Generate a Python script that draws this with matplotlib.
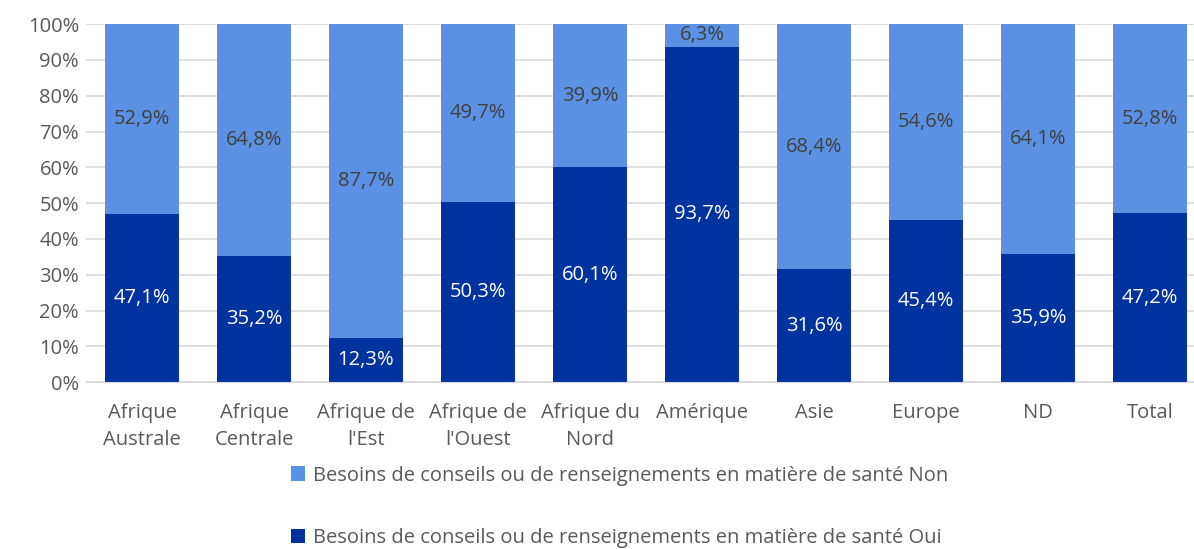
import numpy as np
import matplotlib.pyplot as plt

categories = ["Afrique\nAustrale", "Afrique\nCentrale", "Afrique de\nl'Est", "Afrique de\nl'Ouest",
              "Afrique du\nNord", "Amérique", "Asie", "Europe", "ND", "Total"]
oui = [47.1, 35.2, 12.3, 50.3, 60.1, 93.7, 31.6, 45.4, 35.9, 47.2]
non = [52.9, 64.8, 87.7, 49.7, 39.9, 6.3, 68.4, 54.6, 64.1, 52.8]
label_oui = "Besoins de conseils ou de renseignements en matière de santé Oui"
label_non = "Besoins de conseils ou de renseignements en matière de santé Non"

plt.rcParams['font.family'] = ['Open Sans', 'DejaVu Sans']
fs = 14.5

fig = plt.figure(figsize=(11.94, 5.49), dpi=100)
ax = fig.add_axes([0.072, 0.304, 0.928, 0.652])

x = np.arange(len(categories))
w = 0.66
b1 = ax.bar(x, oui, w, color="#0033A0", label=label_oui, zorder=3)
b2 = ax.bar(x, non, w, bottom=oui, color="#5B91E3", label=label_non, zorder=3)

for i in range(len(x)):
    ax.text(x[i], oui[i] / 2, f"{oui[i]:.1f}%".replace(".", ","), ha="center", va="center",
            color="white", fontsize=fs, zorder=4)
    ax.text(x[i], oui[i] + non[i] / 2, f"{non[i]:.1f}%".replace(".", ","), ha="center", va="center",
            color="#404040", fontsize=fs, zorder=4)

ax.set_ylim(0, 100)
ax.set_xlim(-0.5, 9.5 - 12 / 112)
ax.set_yticks(np.arange(0, 101, 10))
ax.set_yticklabels([f"{v}%" for v in range(0, 101, 10)], fontsize=fs, color="#595959")
ax.set_xticks(x)
ax.set_xticklabels(categories, fontsize=fs, color="#595959", linespacing=1.45)
ax.tick_params(axis="y", length=0, pad=5)
ax.tick_params(axis="x", length=0, pad=15)
ax.yaxis.grid(True, color="#D9D9D9", linewidth=1.2, zorder=0)
for s in ax.spines.values():
    s.set_visible(False)
ax.spines["bottom"].set_visible(True)
ax.spines["bottom"].set_color("#D9D9D9")
ax.spines["bottom"].set_zorder(5)

handles = [b2, b1]
fig.legend(handles, [label_non, label_oui], loc="upper center", bbox_to_anchor=(0.519, 0.152),
           frameon=False, fontsize=fs, labelcolor="#595959", handlelength=0.7, handleheight=0.7,
           handletextpad=0.4, labelspacing=2.1, borderaxespad=0, borderpad=0)

fig.savefig("out.png", dpi=100)
